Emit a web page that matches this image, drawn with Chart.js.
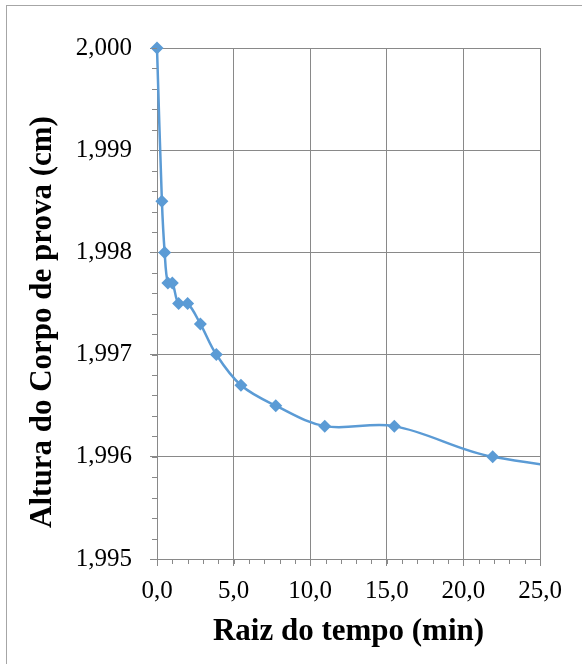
<!DOCTYPE html>
<html>
<head>
<meta charset="utf-8">
<script src="https://cdn.jsdelivr.net/npm/chart.js@4/dist/chart.umd.min.js"></script>
<style>
body{margin:0;background:#fff}
</style>
</head>
<body>
<canvas id="myChart" width="582" height="664"></canvas>
<script>
// dados do ensaio
const raiz_tempo = [0, 0.32, 0.5, 0.71, 1.0, 1.41, 2.0, 2.83, 3.87, 5.48, 7.75, 10.95, 15.49, 21.91, 37.95]
const altura = [2.0000, 1.9985, 1.9980, 1.9977, 1.9977, 1.9975, 1.9975, 1.9973, 1.9970, 1.9967, 1.9965, 1.9963, 1.9963, 1.9960, 1.9957]

const x_min = 0, x_max = 25, x_step = 5, x_minor = 1
const y_min = 1.995, y_max = 2.000, y_step = 0.001, y_minor = 0.0002

const titulo_x = 'Raiz do tempo (min)'
const titulo_y = 'Altura do Corpo de prova (cm)'

const fonte = '"Liberation Serif", "Times New Roman", serif'
const cinza = '#898989'
const azul = '#5b9bd5'

const pontos = raiz_tempo.map((x, i) => ({x: x, y: altura[i]}))

// moldura e pequenos tracos
const extras = {
    id: 'extras',
    beforeDraw(chart) {
        const c = chart.ctx
        c.save()
        c.strokeStyle = '#a6a6a6'
        c.lineWidth = 1
        c.strokeRect(6.5, 5.5, 700, 800)
        c.restore()
    },
    afterDraw(chart) {
        const c = chart.ctx
        const sx = chart.scales.x, sy = chart.scales.y
        const area = chart.chartArea
        c.save()
        c.strokeStyle = cinza
        c.lineWidth = 1
        c.beginPath()
        const ny = Math.round((y_max - y_min) / y_minor)
        for (let i = 0; i <= ny; i++) {
            const py = Math.round(sy.getPixelForValue(y_min + i * y_minor)) + 0.5
            c.moveTo(area.left - 5, py)
            c.lineTo(area.left, py)
        }
        const nx = Math.round((x_max - x_min) / x_minor)
        for (let i = 0; i <= nx; i++) {
            const px = Math.round(sx.getPixelForValue(x_min + i * x_minor)) + 0.5
            c.moveTo(px, area.bottom)
            c.lineTo(px, area.bottom + 5)
        }
        c.stroke()

        // titulo do eixo y
        c.fillStyle = '#000'
        c.font = 'bold 31px ' + fonte
        c.textAlign = 'center'
        c.textBaseline = 'middle'
        c.translate(43, 322)
        c.rotate(-Math.PI / 2)
        c.fillText(titulo_y, 0, 0)
        c.restore()
    }
}

var ctx = document.querySelector('#myChart')
var myChart = new Chart(ctx, {
    type: 'scatter',
    data: {
        datasets: [{
            data: pontos,
            showLine: true,
            borderColor: azul,
            backgroundColor: azul,
            borderWidth: 2.5,
            pointStyle: 'rectRot',
            pointRadius: 6.5,
            pointBorderWidth: 0,
            tension: 0.35,
            clip: {left: 10, top: 10, right: 0, bottom: 10}
        }]
    },
    options: {
        responsive: false,
        animation: false,
        layout: {padding: {top: 48, right: 42, bottom: 0, left: 0}},
        plugins: {legend: {display: false}, tooltip: {enabled: false}},
        scales: {
            x: {
                type: 'linear',
                min: x_min,
                max: x_max,
                afterFit: s => { s.height = 105 },
                ticks: {
                    stepSize: x_step,
                    color: '#000',
                    padding: 10,
                    font: {family: fonte, size: 25},
                    callback: v => v.toFixed(1).replace('.', ',')
                },
                grid: {color: cinza, tickLength: 7},
                border: {color: cinza},
                title: {
                    display: true,
                    text: titulo_x,
                    color: '#000',
                    font: {family: fonte, size: 31, weight: 'bold'},
                    padding: {top: 0, bottom: 13}
                }
            },
            y: {
                min: y_min,
                max: y_max,
                afterFit: s => { s.width = 157 },
                ticks: {
                    stepSize: y_step,
                    color: '#000',
                    padding: 18,
                    font: {family: fonte, size: 25},
                    callback: v => v.toFixed(3).replace('.', ',')
                },
                grid: {color: cinza, tickLength: 7},
                border: {color: cinza}
            }
        }
    },
    plugins: [extras]
})
</script>
</body>
</html>
